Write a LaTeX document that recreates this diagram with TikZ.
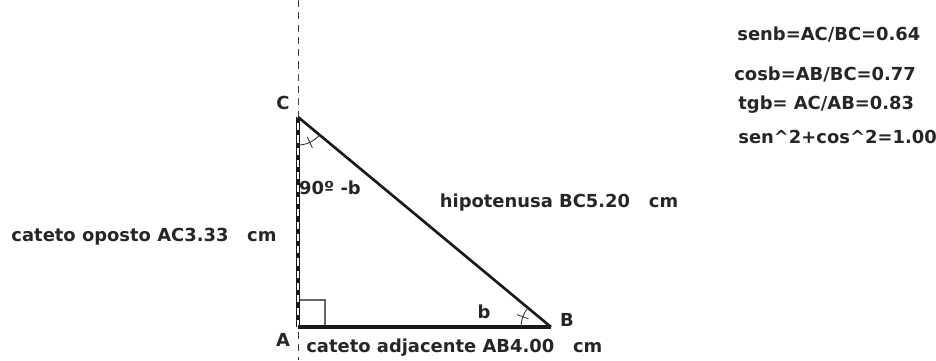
\documentclass[tikz,border=0pt]{standalone}
\usepackage{fontspec}
\setmainfont{DejaVu Sans}
\usepackage{tikz}
\tikzset{
  lbl/.style={font=\bfseries\fontsize{10.2}{12}\selectfont, text=black!85, inner sep=0pt},
  side/.style={black!90, line width=1.6pt},
  anglemark/.style={black!80, line width=0.5pt},
}

\begin{document}
\begin{tikzpicture}[x=0.02cm, y=0.02cm]
  \useasboundingbox (0,0) rectangle (936,360);
  % vertices of the triangle and ends of the axis
  \coordinate (C) at (298,243);
  \coordinate (A) at (298,33);
  \coordinate (B) at (551,33);
  \coordinate (axtop) at (298,360);
  \coordinate (axbot) at (298,0);
  % dashed vertical axis through A and C
  \draw[black!75, line width=0.5pt, dash pattern=on 4pt off 3pt] (axtop) -- (axbot);
  % right angle at A
  \draw[black!60, line width=0.6pt] (A) ++(0,27) -- ++(27,0) -- ++(0,-27);
  % sides
  \draw[side, line width=2.6pt] (A) -- (C);
  \draw[white, line width=0.8pt, dash pattern=on 4pt off 3pt] (A) -- (C);
  \draw[side, line width=2.4pt] (A) -- (B);
  \draw[side, line width=1.5pt] (C) -- (B);
  % angle marks at C and B
  \draw[anglemark] (C) ++(270:28) arc[start angle=270, end angle=320, radius=28];
  \draw[anglemark] (C) ++(295:22) -- ++(295:12);
  \draw[anglemark] (B) ++(140:30) arc[start angle=140, end angle=180, radius=30];
  \draw[anglemark] (B) ++(160:24) -- ++(160:12);
  % vertex and angle labels
  \node[lbl] (labC) at (283,257) {C};
  \node[lbl] (labA) at (283,20) {A};
  \node[lbl] (labB) at (567,40) {B};
  \node[lbl] (angC) at (330,172) {90º -b};
  \node[lbl] (angB) at (484,48) {b};
  % side lengths
  \node[lbl] (hyp) at (559,157) {hipotenusa BC5.20\ \ \ cm};
  \node[lbl] (opp) at (144,123) {cateto oposto AC3.33\ \ \ cm};
  \node[lbl, anchor=west] (adj) at (306,12) {cateto adjacente AB4.00\ \ \ cm};
  % ratios
  \node[lbl, anchor=west] (sen) at (737,325) {senb=AC/BC=0.64};
  \node[lbl, anchor=west] (cos) at (734,285) {cosb=AB/BC=0.77};
  \node[lbl, anchor=west] (tg) at (738,255) {tgb= AC/AB=0.83};
  \node[lbl, anchor=west] (pit) at (738,223) {sen\textasciicircum 2+cos\textasciicircum 2=1.00};
\end{tikzpicture}
\end{document}
